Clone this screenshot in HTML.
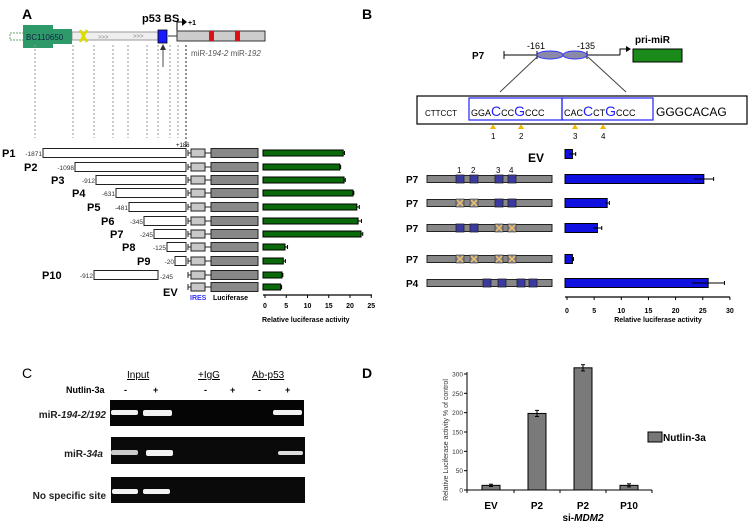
<!DOCTYPE html>
<html><head><meta charset="utf-8"><style>
html,body{margin:0;padding:0;background:#fff;}
svg{display:block;font-family:"Liberation Sans",Arial,sans-serif;}
</style></head><body>
<svg id="fig" width="750" height="523" viewBox="0 0 750 523" xmlns="http://www.w3.org/2000/svg">
<!-- Panel letters -->
<text x="22" y="19" font-size="14" font-weight="bold">A</text>
<text x="362" y="19" font-size="14" font-weight="bold">B</text>
<text x="22" y="378" font-size="14">C</text>
<text x="362" y="378" font-size="14" font-weight="bold">D</text>

<!-- Panel A gene diagram -->
<g>
  <rect x="10" y="33" width="14" height="7" fill="#fff" stroke="#6a6" stroke-width="1" stroke-dasharray="2,1"/>
  <rect x="72" y="32" width="86" height="8" fill="#eee" stroke="#999" stroke-width="1"/>
  <rect x="23" y="25" width="30" height="23" fill="#2e9a6a"/>
  <rect x="53" y="29" width="19" height="15" fill="#2e9a6a"/>
  <text x="26" y="40" font-size="8" fill="#124">BC110650</text>
  <path d="M80 30 L87 42 M87 30 L80 42" stroke="#dd0" stroke-width="2.5"/>
  <text x="98" y="39" font-size="6" fill="#888">&gt;&gt;&gt;</text>
  <text x="133" y="38" font-size="6" fill="#888">&gt;&gt;&gt;</text>
  <rect x="158" y="30" width="9" height="13" fill="#1a1aff" stroke="#000" stroke-width="0.8"/>
  <line x1="167" y1="36" x2="177" y2="36" stroke="#999" stroke-width="2"/>
  <line x1="163" y1="67" x2="163" y2="47" stroke="#888" stroke-width="1.5"/>
  <path d="M160 50 L163 44 L166 50 Z" fill="#333"/>
  <text x="142" y="22" font-size="11" font-weight="bold">p53 BS</text>
  <line x1="177" y1="40" x2="177" y2="21" stroke="#000" stroke-width="1"/>
  <line x1="177" y1="22" x2="183" y2="22" stroke="#000" stroke-width="1"/>
  <path d="M182 18 L187 22 L182 26 Z" fill="#000"/>
  <text x="188" y="25" font-size="7" font-weight="bold">+1</text>
  <rect x="177" y="31" width="88" height="10" fill="#ccc" stroke="#333" stroke-width="1"/>
  <rect x="209" y="31" width="5" height="10" fill="#d11"/>
  <rect x="235" y="31" width="5" height="10" fill="#d11"/>
  <text x="191" y="56" font-size="8" fill="#555">miR-<tspan font-style="italic">194-2</tspan> miR-<tspan font-style="italic">192</tspan></text>
</g>
<g id="dashes" stroke="#999" stroke-width="1" stroke-dasharray="2,2"></g>
<text x="176" y="147" font-size="6">+186</text>
<g id="constructsA"></g>
<g id="barsA"></g>
<text x="190" y="300" font-size="7" font-weight="bold" fill="#33f">IRES</text>
<text x="213" y="300" font-size="7" font-weight="bold">Luciferase</text>

<!-- Panel B diagram -->
<g>
  <text x="472" y="59" font-size="10" font-weight="bold">P7</text>
  <line x1="504" y1="55" x2="620" y2="55" stroke="#000"/>
  <line x1="504" y1="51" x2="504" y2="59" stroke="#000"/>
  <line x1="537" y1="51" x2="537" y2="59" stroke="#000"/>
  <line x1="587" y1="51" x2="587" y2="59" stroke="#000"/>
  <ellipse cx="550" cy="55" rx="13" ry="4" fill="#8a8aa8" stroke="#33f"/>
  <ellipse cx="575" cy="55" rx="12" ry="4" fill="#8a8aa8" stroke="#33f"/>
  <text x="527" y="49" font-size="9">-161</text>
  <text x="577" y="49" font-size="9">-135</text>
  <path d="M620 55 V49 H627" fill="none" stroke="#000"/>
  <path d="M626 46 L631 49 L626 52 Z" fill="#000"/>
  <rect x="633" y="49" width="49" height="13" fill="#1a8a1a" stroke="#000"/>
  <text x="635" y="43" font-size="10" font-weight="bold">pri-miR</text>
  <line x1="500" y1="92" x2="537" y2="57" stroke="#444"/>
  <line x1="626" y1="92" x2="588" y2="57" stroke="#444"/>
  <rect x="417" y="96" width="330" height="28" fill="#fff" stroke="#000" stroke-width="1.2"/>
  <rect x="469" y="98" width="93" height="22" fill="none" stroke="#22f" stroke-width="1.2"/>
  <rect x="562" y="98" width="91" height="22" fill="none" stroke="#22f" stroke-width="1.2"/>
  <text x="425" y="116" font-size="8">CTTCCT</text>
  <text x="471" y="116" font-size="9">GGA<tspan font-size="14" fill="#22f">C</tspan>CC<tspan font-size="14" fill="#22f">G</tspan>CCC</text>
  <text x="564" y="116" font-size="9">CAC<tspan font-size="14" fill="#22f">C</tspan>CT<tspan font-size="14" fill="#22f">G</tspan>CCC</text>
  <text x="656" y="116" font-size="12">GGGCACAG</text>
  <g fill="#f5b800">
    <path d="M490 129 L493 124 L496 129 Z"/><path d="M518 129 L521 124 L524 129 Z"/>
    <path d="M572 129 L575 124 L578 129 Z"/><path d="M600 129 L603 124 L606 129 Z"/>
  </g>
  <g font-size="8"><text x="491" y="139">1</text><text x="519" y="139">2</text><text x="573" y="139">3</text><text x="601" y="139">4</text></g>
  <text x="528" y="162" font-size="12" font-weight="bold">EV</text>
  <g font-size="8"><text x="457" y="173">1</text><text x="471" y="173">2</text><text x="496" y="173">3</text><text x="509" y="173">4</text></g>
</g>
<g id="constructsB"></g>
<g id="barsB"></g>

<!-- Panel C gel -->
<g>
  <text x="127" y="378" font-size="10" text-decoration="underline">Input</text>
  <text x="198" y="378" font-size="10" text-decoration="underline">+IgG</text>
  <text x="252" y="378" font-size="10" text-decoration="underline">Ab-p53</text>
  <text x="66" y="393" font-size="9" font-weight="bold">Nutlin-3a</text>
  <g font-size="9" font-weight="bold"><text x="124" y="393">-</text><text x="153" y="393">+</text><text x="204" y="393">-</text><text x="230" y="393">+</text><text x="258" y="393">-</text><text x="285" y="393">+</text></g>
  <text x="106" y="418" font-size="10" font-weight="bold" text-anchor="end" fill="#222">miR-<tspan font-style="italic">194-2/192</tspan></text>
  <text x="103" y="457" font-size="10" font-weight="bold" text-anchor="end" fill="#222">miR-<tspan font-style="italic">34a</tspan></text>
  <text x="106" y="499" font-size="10" font-weight="bold" text-anchor="end" fill="#222">No specific site</text>
  <rect x="110" y="400" width="194" height="26" fill="#050505"/>
  <rect x="111" y="437" width="194" height="27" fill="#0a0a0a"/>
  <rect x="111" y="477" width="194" height="26" fill="#0a0a0a"/>
  <g fill="#f2f2f2">
    <rect x="111" y="410" width="27" height="5" rx="2"/><rect x="143" y="410" width="29" height="6" rx="2"/><rect x="273" y="410" width="29" height="5" rx="2"/>
    <rect x="111" y="450" width="27" height="5" rx="2" fill="#ccc"/><rect x="146" y="450" width="27" height="6" rx="2"/><rect x="278" y="451" width="25" height="4" rx="2" fill="#ddd"/>
    <rect x="112" y="489" width="26" height="5" rx="2"/><rect x="143" y="489" width="27" height="5" rx="2"/>
  </g>
</g>

<!-- Panel D chart -->
<g id="chartD"></g>
<text transform="translate(448,440) rotate(-90)" font-size="7" text-anchor="middle" fill="#333">Relative Luciferase activity % of control</text>
<rect x="648" y="432" width="14" height="10" fill="#777" stroke="#000"/>
<text x="663" y="441" font-size="10" font-weight="bold">Nutlin-3a</text>
<text x="583" y="521" font-size="10" font-weight="bold" text-anchor="middle">si-<tspan font-style="italic">MDM2</tspan></text>

<script>
// ---- Panel A data ----
const aLabels = ["P1","P2","P3","P4","P5","P6","P7","P8","P9","P10","EV"];
const aStartNums = ["-1871","-1098","-912","-631","-481","-345","-245","-125","-20","-912",""];
const aValues = [18.4,17.6,18.6,20.7,21.6,21.9,22.6,4.7,4.3,4.0,3.7];
const aErrors = [0.3,0.2,0.3,0.2,0.6,0.8,0.4,0.6,0.5,0.2,0.2];
const aTicks = [0,5,10,15,20,25];
// ---- Panel B data ----
const bValues = [1.0,25.2,7.4,5.6,1.0,26.0];
const bErrors = [0.6,1.8,0.4,0.8,0.2,3.0];
const bTicks = [0,5,10,15,20,25,30];
// ---- Panel D data ----
const dCategories = ["EV","P2","P2","P10"];
const dValues = [12,198,316,12];
const dErrors = [3,8,8,4];
const dTicks = [0,50,100,150,200,250,300];

const NS="http://www.w3.org/2000/svg";
function mk(tag,attrs,parent){const e=document.createElementNS(NS,tag);for(const k in attrs)e.setAttribute(k,attrs[k]);parent.appendChild(e);return e;}

// dashed guide lines
const dashG=document.getElementById('dashes');
[35,73,94,113,128,147,158,170,178].forEach(x=>{const l=mk('line',{x1:x,y1:45,x2:x,y2:138},dashG);

});
mk('line',{x1:186,y1:45,x2:186,y2:148,stroke:'#222'},dashG);

// Panel A constructs
const rowY=[153,167,180,193,207,221,234,247,261,275,287];
const boxStart=[43,75,96,116,129,144,154,167,175,94,null];
const labelX=[2,24,51,72,87,101,110,122,137,42,163];
const cA=document.getElementById('constructsA');
aLabels.forEach((lab,i)=>{
  const y=rowY[i];
  const t=mk('text',{x:labelX[i],y:(lab==="EV"?y+9:y+4),'font-size':11,'font-weight':'bold'},cA);t.textContent=lab;
  
  
  if(boxStart[i]!==null){
    const end=(lab==="P10")?158:186;
    mk('rect',{x:boxStart[i],y:y-4.5,width:end-boxStart[i],height:9,fill:'#fff',stroke:'#222','stroke-width':1},cA);
    const n=mk('text',{x:boxStart[i]-1,y:y+3,'font-size':6.5,'text-anchor':'end',fill:'#333'},cA);n.textContent=aStartNums[i];
    if(lab==="P10"){const n2=mk('text',{x:160,y:y+4,'font-size':6.5,fill:'#333'},cA);n2.textContent="-245";}
  }
  mk('line',{x1:188,y1:y,x2:211,y2:y,stroke:'#222'},cA);
  mk('line',{x1:188,y1:y-3,x2:188,y2:y+3,stroke:'#222'},cA);
  mk('rect',{x:191,y:y-4,width:14,height:8,fill:'#c8c8c8',stroke:'#222'},cA);
  mk('rect',{x:211,y:y-4.5,width:47,height:9,fill:'#888',stroke:'#222'},cA);
});

// Panel A bars
const bA=document.getElementById('barsA');
const ax0=265, axScale=4.25;
function xA(v){return ax0+v*axScale;}
aValues.forEach((v,i)=>{
  const y=rowY[i];
  const r=mk('rect',{x:xA(0)-2,y:y-3,width:xA(v)-xA(0)+2,height:6,fill:'#0a6a0a',stroke:'#000','stroke-width':1},bA);
  
  
  mk('line',{x1:xA(v),y1:y,x2:xA(v+aErrors[i]),y2:y,stroke:'#000'},bA);
  mk('line',{x1:xA(v+aErrors[i]),y1:y-2,x2:xA(v+aErrors[i]),y2:y+2,stroke:'#000'},bA);
});
mk('line',{x1:263,y1:295,x2:372,y2:295,stroke:'#000','stroke-width':1.2},bA);
aTicks.forEach(t=>{mk('line',{x1:xA(t),y1:295,x2:xA(t),y2:298,stroke:'#000'},bA);
  const tx=mk('text',{x:xA(t),y:308,'font-size':7,'font-weight':'bold','text-anchor':'middle'},bA);tx.textContent=t;
  
  });
const aLab=mk('text',{x:262,y:322,'font-size':7,'font-weight':'bold'},bA);aLab.textContent="Relative luciferase activity";



// Panel B constructs
const bRowY=[154,179,203,228,259,283];
const bLabels=["EV","P7","P7","P7","P7","P4"];
const sqX=[460,474,499,512];
const mutated=[null,[0,0,0,0],[1,1,0,0],[0,0,1,1],[1,1,1,1],null];
const cB=document.getElementById('constructsB');
bLabels.forEach((lab,i)=>{
  if(lab==="EV")return;
  const y=bRowY[i];
  const t=mk('text',{x:406,y:y+4,'font-size':10,'font-weight':'bold'},cB);t.textContent=lab;
  
  
  mk('rect',{x:427,y:y-3.5,width:125,height:7,fill:'#888',stroke:'#222'},cB);
  const xs= lab==="P4"?[487,502,521,533]:sqX;
  xs.forEach((x,k)=>{
    if(mutated[i] && mutated[i][k]){
      mk('rect',{x:x-4,y:y-4,width:8,height:8,fill:'#888',stroke:'#333','stroke-width':0.6},cB);
      mk('path',{d:`M${x-3} ${y-3} L${x+3} ${y+3} M${x+3} ${y-3} L${x-3} ${y+3}`,stroke:'#f0c070','stroke-width':1.5},cB);
    } else {
      mk('rect',{x:x-4,y:y-4,width:8,height:8,fill:'#3a3aa0',stroke:'#222','stroke-width':0.8},cB);
    }
  });
});

// Panel B bars
const bB=document.getElementById('barsB');
const bx0=567, bScale=5.43;
function xB(v){return bx0+v*bScale;}
bValues.forEach((v,i)=>{
  const y=bRowY[i];
  const r=mk('rect',{x:xB(0)-2,y:y-4.5,width:xB(v)-xB(0)+2,height:9,fill:'#1010e0',stroke:'#000','stroke-width':1},bB);
  
  
  mk('line',{x1:xB(v-bErrors[i]),y1:y,x2:xB(v+bErrors[i]),y2:y,stroke:'#000'},bB);
  mk('line',{x1:xB(v+bErrors[i]),y1:y-2,x2:xB(v+bErrors[i]),y2:y+2,stroke:'#000'},bB);
});
mk('line',{x1:565,y1:297,x2:730,y2:297,stroke:'#000','stroke-width':1.2},bB);
bTicks.forEach(t=>{mk('line',{x1:xB(t),y1:297,x2:xB(t),y2:300,stroke:'#000'},bB);
  const tx=mk('text',{x:xB(t),y:313,'font-size':7,'font-weight':'bold','text-anchor':'middle'},bB);tx.textContent=t;
  
  });
const bLab=mk('text',{x:658,y:322,'font-size':7,'font-weight':'bold','text-anchor':'middle'},bB);bLab.textContent="Relative luciferase activity";



// Panel D
const gD=document.getElementById('chartD');
const dy0=490, dScale=116/300;
function yD(v){return dy0-v*dScale;}
const dX=[491,537,583,629];
mk('line',{x1:467,y1:372,x2:467,y2:dy0,stroke:'#000'},gD);
mk('line',{x1:467,y1:dy0,x2:652,y2:dy0,stroke:'#000'},gD);
dTicks.forEach(t=>{mk('line',{x1:464,y1:yD(t),x2:467,y2:yD(t),stroke:'#000'},gD);
  const tx=mk('text',{x:463,y:yD(t)+2.5,'font-size':6.5,'text-anchor':'end',fill:'#333'},gD);tx.textContent=t;
  
  });
[467,514,560,606,652].forEach(x=>mk('line',{x1:x,y1:dy0,x2:x,y2:dy0+3,stroke:'#000'},gD));
dValues.forEach((v,i)=>{
  const r=mk('rect',{x:dX[i]-9,y:yD(v),width:18,height:dy0-yD(v),fill:'#7a7a7a',stroke:'#000','stroke-width':1},gD);
  
  
  mk('line',{x1:dX[i],y1:yD(v-dErrors[i]),x2:dX[i],y2:yD(v+dErrors[i]),stroke:'#000'},gD);
  mk('line',{x1:dX[i]-2,y1:yD(v+dErrors[i]),x2:dX[i]+2,y2:yD(v+dErrors[i]),stroke:'#000'},gD);
  mk('line',{x1:dX[i]-2,y1:yD(v-dErrors[i]),x2:dX[i]+2,y2:yD(v-dErrors[i]),stroke:'#000'},gD);
  const t=mk('text',{x:dX[i],y:509,'font-size':10,'font-weight':'bold','text-anchor':'middle'},gD);t.textContent=dCategories[i];
  
  
});
</script>
</svg>
</body></html>
